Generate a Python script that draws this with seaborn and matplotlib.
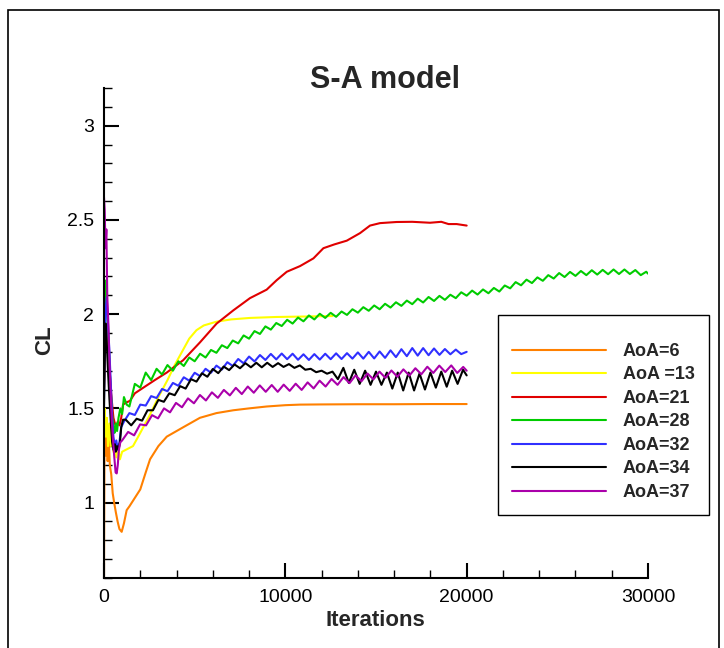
import numpy as np
import pandas as pd
import matplotlib
matplotlib.use("Agg")
import matplotlib.pyplot as plt
import matplotlib.patches as mpatches
from matplotlib.lines import Line2D
from matplotlib.ticker import MultipleLocator
import seaborn as sns

# ---------------- data ----------------
labels = ["AoA=6", "AoA =13", "AoA=21", "AoA=28", "AoA=32", "AoA=34", "AoA=37"]
colors = ["#ff8000", "#ffff00", "#e00000", "#00cc00", "#3030ff", "#000000", "#aa00aa"]

x_aoa6 = [0, 25, 60, 100, 150, 200, 260, 320, 400, 480, 560, 650, 750, 850, 975, 1100,
          1250, 1400, 1600, 1800, 2000, 2300, 2540, 3000, 3460, 4370, 5290, 6200, 7130,
          8000, 8970, 10000, 10810, 12000, 14000, 16000, 18000, 20000]
y_aoa6 = [0.60, 1.30, 1.45, 1.25, 1.40, 1.22, 1.35, 1.20, 1.15, 1.05, 1.00, 0.95, 0.90,
          0.86, 0.845, 0.89, 0.96, 0.98, 1.01, 1.04, 1.07, 1.16, 1.23, 1.30, 1.35, 1.40,
          1.45, 1.475, 1.49, 1.50, 1.51, 1.517, 1.52, 1.521, 1.522, 1.522, 1.523, 1.523]

x_aoa13 = [0, 40, 100, 160, 220, 300, 380, 450, 520, 600, 680, 760, 880, 1000, 1200,
           1600, 2000, 2500, 3000, 3500, 3900, 4300, 4700, 5100, 5500, 6200, 7000, 8050,
           9500, 10810, 12600]
y_aoa13 = [1.45, 1.50, 1.35, 1.45, 1.30, 1.42, 1.30, 1.35, 1.27, 1.32, 1.24, 1.30, 1.23,
           1.27, 1.28, 1.30, 1.37, 1.46, 1.56, 1.65, 1.73, 1.80, 1.87, 1.915, 1.94, 1.96,
           1.972, 1.98, 1.985, 1.987, 1.99]

x_aoa21 = [0, 40, 90, 150, 220, 300, 380, 450, 520, 600, 680, 760, 850, 950, 1050, 1200,
           1430, 1700, 2170, 2800, 3460, 4370, 5290, 6210, 7130, 8050, 8970, 9520, 10080,
           10810, 11550, 12100, 12700, 13390, 14120, 14670, 15220, 16140, 17000, 17980,
           18600, 19000, 19450, 20000]
y_aoa21 = [1.60, 1.75, 1.90, 1.93, 1.80, 1.72, 1.60, 1.52, 1.45, 1.42, 1.40, 1.43, 1.41,
           1.45, 1.52, 1.53, 1.54, 1.58, 1.61, 1.65, 1.69, 1.756, 1.85, 1.95, 2.02, 2.085,
           2.13, 2.18, 2.225, 2.255, 2.296, 2.35, 2.37, 2.39, 2.43, 2.47, 2.483, 2.489,
           2.49, 2.485, 2.49, 2.478, 2.478, 2.47]

x_aoa28 = [0, 40, 80, 120, 170, 220, 280, 340, 400, 460, 520, 580, 650, 720, 800, 900,
           1000, 1100, 1250,
           1400, 1700, 2000, 2300, 2600, 2900, 3200, 3500, 3800, 4100, 4400, 4700, 5000,
           5300, 5600, 5900, 6200, 6500, 6800, 7100, 7400, 7700, 8000, 8300, 8600, 8900,
           9200, 9500, 9800, 10100, 10400, 10700, 11000, 11300, 11600, 11900, 12200,
           12500, 12800, 13100, 13400, 13700, 14000, 14300, 14600, 14900, 15200, 15500,
           15800, 16100, 16400, 16700, 17000, 17300, 17600, 17900, 18200, 18500, 18800,
           19100, 19400, 19700, 20000, 20300, 20600, 20900, 21200, 21500, 21800, 22100,
           22400, 22700, 23000, 23300, 23600, 23900, 24200, 24500, 24800, 25100, 25400,
           25700, 26000, 26300, 26600, 26900, 27200, 27500, 27800, 28100, 28400, 28700,
           29000, 29300, 29600, 29900, 30000]
y_aoa28 = [1.75, 1.95, 2.05, 2.18, 2.02, 1.90, 1.80, 1.65, 1.55, 1.45, 1.40, 1.37, 1.42,
           1.38, 1.45, 1.50, 1.47, 1.56, 1.52,
           1.51, 1.63, 1.61, 1.69, 1.65, 1.71, 1.68, 1.73, 1.70, 1.75, 1.725, 1.77, 1.75,
           1.79, 1.77, 1.81, 1.795, 1.835, 1.82, 1.86, 1.845, 1.887, 1.87, 1.91, 1.895,
           1.935, 1.918, 1.953, 1.937, 1.97, 1.95, 1.982, 1.962, 1.993, 1.972, 2.002,
           1.98, 2.007, 1.986, 2.014, 1.996, 2.026, 2.008, 2.037, 2.018, 2.046, 2.026,
           2.055, 2.035, 2.063, 2.044, 2.072, 2.053, 2.082, 2.062, 2.091, 2.07, 2.097,
           2.076, 2.103, 2.085, 2.116, 2.098, 2.125, 2.104, 2.131, 2.111, 2.139, 2.12,
           2.152, 2.137, 2.17, 2.153, 2.183, 2.165, 2.195, 2.177, 2.207, 2.189, 2.218,
           2.197, 2.224, 2.203, 2.229, 2.207, 2.233, 2.21, 2.235, 2.212, 2.237, 2.213,
           2.237, 2.213, 2.234, 2.207, 2.225, 2.215]

x_aoa32 = [0, 40, 80, 150, 220, 300, 380, 450, 520, 600, 680, 760, 850, 950,
           1100, 1400, 1700, 2000, 2300, 2600, 2900, 3200, 3500, 3800, 4100, 4400, 4700,
           5000, 5300, 5600, 5900, 6200, 6500, 6800, 7100, 7400, 7700, 8000, 8300, 8600,
           8900, 9200, 9500, 9800, 10100, 10400, 10700, 11000, 11300, 11600, 11900, 12200,
           12500, 12800, 13100, 13400, 13700, 14000, 14300, 14600, 14900, 15200, 15500,
           15800, 16100, 16400, 16700, 17000, 17300, 17600, 17900, 18200, 18500, 18800,
           19100, 19400, 19700, 20000]
y_aoa32 = [1.55, 1.85, 2.00, 2.09, 1.95, 1.80, 1.62, 1.45, 1.35, 1.30, 1.33, 1.28, 1.32,
           1.40,
           1.43, 1.475, 1.465, 1.52, 1.515, 1.565, 1.555, 1.603, 1.591, 1.635, 1.62, 1.665,
           1.647, 1.689, 1.671, 1.71, 1.689, 1.727, 1.706, 1.745, 1.725, 1.762, 1.739,
           1.775, 1.749, 1.783, 1.757, 1.789, 1.76, 1.791, 1.761, 1.79, 1.758, 1.787,
           1.757, 1.788, 1.759, 1.79, 1.761, 1.792, 1.762, 1.793, 1.764, 1.797, 1.764,
           1.80, 1.765, 1.802, 1.768, 1.808, 1.772, 1.814, 1.777, 1.82, 1.78, 1.82, 1.782,
           1.818, 1.784, 1.815, 1.787, 1.812, 1.788, 1.80]

x_aoa34 = [0, 40, 90, 150, 220, 300, 380, 450, 520, 600, 650, 720, 800, 880, 950, 1050,
           1200, 1500, 1800, 2100, 2400, 2700, 3000, 3300, 3600, 3900, 4200, 4500, 4800,
           5100, 5400, 5700, 6000, 6300, 6600, 6900, 7200, 7500, 7800, 8100, 8400, 8700,
           9000, 9300, 9600, 9900, 10200, 10500, 10800, 11100, 11400, 11700, 12000, 12300,
           12600, 12900, 13200, 13500, 13800, 14100, 14400, 14700, 15000, 15300, 15600,
           15900, 16200, 16500, 16800, 17100, 17400, 17700, 18000, 18300, 18600, 18900,
           19200, 19500, 19800, 20000]
y_aoa34 = [1.50, 1.75, 1.95, 1.85, 1.70, 1.55, 1.42, 1.32, 1.28, 1.31, 1.27, 1.30, 1.28,
           1.32, 1.40, 1.44,
           1.44, 1.41, 1.445, 1.435, 1.49, 1.49, 1.545, 1.535, 1.58, 1.57, 1.618, 1.605,
           1.655, 1.642, 1.686, 1.668, 1.709, 1.687, 1.722, 1.703, 1.733, 1.713, 1.74,
           1.718, 1.742, 1.718, 1.742, 1.72, 1.74, 1.72, 1.735, 1.715, 1.728, 1.705, 1.71,
           1.692, 1.70, 1.684, 1.695, 1.655, 1.715, 1.635, 1.705, 1.63, 1.70, 1.625, 1.695,
           1.625, 1.69, 1.605, 1.69, 1.595, 1.69, 1.595, 1.685, 1.60, 1.69, 1.61, 1.695,
           1.615, 1.70, 1.63, 1.705, 1.675]

x_aoa37 = [0, 40, 80, 130, 180, 240, 300, 360, 420, 480, 560, 640, 700, 760, 820, 900,
           1000, 1330, 1660, 1990, 2320, 2650, 2980, 3310, 3640, 3970, 4300, 4630, 4960,
           5290, 5620, 5950, 6280, 6610, 6940, 7270, 7600, 7930, 8260, 8590, 8920, 9250,
           9580, 9910, 10240, 10570, 10900, 11230, 11560, 11890, 12220, 12550, 12880,
           13210, 13540, 13870, 14200, 14530, 14860, 15190, 15520, 15850, 16180, 16510,
           16840, 17170, 17500, 17830, 18160, 18490, 18820, 19150, 19480, 19810, 20000]
y_aoa37 = [2.62, 2.55, 2.35, 2.45, 2.10, 1.95, 1.75, 1.60, 1.45, 1.35, 1.25, 1.16, 1.155,
           1.20, 1.28, 1.32,
           1.33, 1.375, 1.357, 1.415, 1.41, 1.464, 1.447, 1.50, 1.479, 1.529, 1.506, 1.553,
           1.527, 1.571, 1.542, 1.585, 1.556, 1.598, 1.569, 1.609, 1.576, 1.616, 1.583,
           1.622, 1.588, 1.624, 1.588, 1.626, 1.593, 1.631, 1.598, 1.638, 1.606, 1.647,
           1.616, 1.656, 1.625, 1.666, 1.634, 1.675, 1.644, 1.685, 1.654, 1.695, 1.662,
           1.701, 1.668, 1.707, 1.674, 1.713, 1.681, 1.721, 1.688, 1.727, 1.693, 1.728,
           1.688, 1.72, 1.70]

xs = [x_aoa6, x_aoa13, x_aoa21, x_aoa28, x_aoa32, x_aoa34, x_aoa37]
ys = [y_aoa6, y_aoa13, y_aoa21, y_aoa28, y_aoa32, y_aoa34, y_aoa37]

frames = []
for lab, xx, yy in zip(labels, xs, ys):
    frames.append(pd.DataFrame({"Iterations": xx, "CL": yy, "AoA": lab}))
df = pd.concat(frames, ignore_index=True)

# ---------------- style ----------------
sns.set_style("white")
plt.rcParams["font.family"] = ["Liberation Sans", "DejaVu Sans"]

W, H = 724, 648
fig = plt.figure(figsize=(W / 100, H / 100), dpi=100)
ax = fig.add_axes([104 / W, 1 - 578 / H, (648 - 104) / W, (578 - 88) / H])

sns.lineplot(data=df, x="Iterations", y="CL", hue="AoA", hue_order=labels,
             palette=colors, estimator=None, sort=False, units="AoA",
             linewidth=1.5, ax=ax, legend=False)

ax.set_xlim(0, 30000)
ax.set_ylim(0.6, 3.2)
ax.xaxis.set_minor_locator(MultipleLocator(2000))
ax.yaxis.set_minor_locator(MultipleLocator(0.1))
ax.set_yticks([1, 1.5, 2, 2.5, 3])
ax.set_yticklabels(["1", "1.5", "2", "2.5", "3"])
ax.set_xticks([0, 10000, 20000, 30000])
ax.set_xticklabels(["0", "10000", "20000", "30000"])

for side in ["top", "right"]:
    ax.spines[side].set_visible(False)
for side in ["left", "bottom"]:
    ax.spines[side].set_linewidth(1.5)
    ax.spines[side].set_color("black")

ax.tick_params(axis="both", which="both", bottom=True, left=True, top=False,
               right=False, direction="in", colors="black")
ax.tick_params(axis="both", which="major", length=11, width=1.5, labelsize=14)
ax.tick_params(axis="both", which="minor", length=6, width=1.0)
ax.tick_params(axis="x", which="major", pad=8)
ax.tick_params(axis="y", which="major", pad=7)
ax.set_facecolor("white")

ax.set_xlabel("Iterations", fontsize=16, fontweight="bold")
ax.set_ylabel("CL", fontsize=16, fontweight="bold")
ax.xaxis.set_label_coords(0.498, -0.065)
ax.yaxis.set_label_coords(-0.09, 0.486)

fig.text(385 / W, 1 - 80 / H, "S-A model", ha="center", va="center",
         fontsize=22, fontweight="bold")

handles = [Line2D([0], [0], color=c, lw=1.5) for c in colors]
leg = fig.legend(handles, labels, loc="upper left",
                 bbox_to_anchor=(498 / W, 1 - 315 / H), bbox_transform=fig.transFigure,
                 borderaxespad=0, frameon=True, fancybox=False, framealpha=1,
                 edgecolor="black", borderpad=0.8, labelspacing=0.36,
                 handlelength=5.2, handletextpad=0.9,
                 title=" ", title_fontsize=6,
                 prop={"size": 13, "weight": "bold"})
leg.get_frame().set_linewidth(1.0)

# outer frame of the picture
fig.patches.append(mpatches.Rectangle((8 / W, -0.02), (719 - 8) / W, (648 - 10) / H + 0.02,
                                      transform=fig.transFigure, fill=False,
                                      edgecolor="black", linewidth=1.2))

fig.savefig("out.png", dpi=100, facecolor="white")
